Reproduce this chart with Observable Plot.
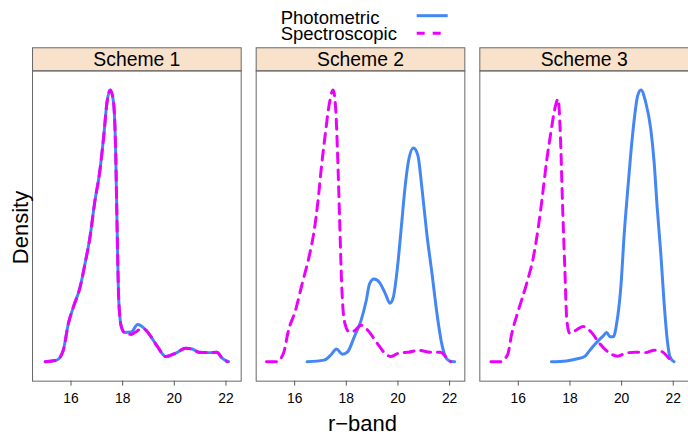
<!DOCTYPE html>
<html><head><meta charset="utf-8">
<script src="https://cdn.jsdelivr.net/npm/d3@7"></script>
<script src="https://cdn.jsdelivr.net/npm/@observablehq/plot@0.6"></script>
<style>
html,body{margin:0;padding:0;background:#fff;overflow:hidden;width:688px;height:434px}
#wrap{position:relative;width:688px;height:434px;overflow:hidden;font-family:"Liberation Sans",Arial,Helvetica,sans-serif}
#chart{position:absolute;left:0;top:0}
#overlay{position:absolute;left:0;top:0;pointer-events:none}
</style></head><body>
<div id="wrap"><div id="chart"></div><svg id="overlay" width="688" height="434"></svg></div>
<script>
const schemes = ["Scheme 1", "Scheme 2", "Scheme 3"];
const seriesNames = ["Photometric", "Spectroscopic"];
const rBandTicks = [16, 18, 20, 22];

// Scheme 1
const s1PhotR = [15.0,15.45,15.7,15.9,16.09,16.35,16.54,16.73,16.92,17.11,17.27,17.39,17.52,17.65,17.73,17.79,17.85,17.95,18.07,18.33,18.58,18.84,19.1,19.35,19.67,20.06,20.44,20.69,20.95,21.34,21.65,21.85,22.1];
const s1PhotD = [0.001,0.005,0.030,0.098,0.139,0.189,0.248,0.314,0.405,0.480,0.573,0.655,0.688,0.655,0.530,0.323,0.155,0.089,0.075,0.076,0.095,0.085,0.064,0.039,0.014,0.023,0.035,0.033,0.025,0.024,0.025,0.010,0.001];
const s1SpecR = [15.0,15.45,15.7,15.9,16.09,16.35,16.54,16.73,16.92,17.11,17.27,17.39,17.52,17.65,17.73,17.79,17.85,17.95,18.07,18.33,18.5,18.7,18.84,19.1,19.35,19.67,20.06,20.44,20.69,20.95,21.34,21.65,21.85,22.05];
const s1SpecD = [0.001,0.005,0.030,0.098,0.139,0.189,0.248,0.314,0.405,0.480,0.573,0.655,0.688,0.655,0.530,0.323,0.155,0.089,0.075,0.070,0.076,0.083,0.083,0.064,0.039,0.014,0.023,0.035,0.033,0.025,0.024,0.025,0.010,0.001];

// Scheme 2
const s2PhotR = [16.48,17.14,17.4,17.62,17.85,18.05,18.31,18.57,18.77,18.9,19.07,19.29,19.51,19.69,19.82,19.98,20.14,20.27,20.4,20.6,20.77,20.93,21.12,21.32,21.51,21.69,21.84,21.97,22.2];
const s2PhotD = [0.001,0.005,0.018,0.033,0.020,0.026,0.064,0.105,0.155,0.198,0.210,0.201,0.173,0.149,0.164,0.239,0.348,0.439,0.505,0.541,0.523,0.439,0.323,0.223,0.123,0.048,0.014,0.004,0.001];
const s2SpecR = [14.91,15.31,15.57,15.76,16.03,16.29,16.55,16.75,16.9,17.03,17.18,17.33,17.49,17.59,17.66,17.74,17.82,17.92,18.12,18.31,18.57,18.84,19.16,19.49,19.73,20.08,20.4,20.8,21.25,21.65,21.84,22.04];
const s2SpecD = [0.001,0.001,0.023,0.080,0.130,0.198,0.264,0.330,0.405,0.489,0.573,0.648,0.688,0.639,0.530,0.364,0.198,0.105,0.076,0.079,0.093,0.080,0.051,0.023,0.014,0.024,0.025,0.030,0.025,0.025,0.014,0.001];

// Scheme 3
const s3PhotR = [17.28,17.86,18.25,18.57,18.76,19.02,19.27,19.42,19.55,19.68,19.81,19.98,20.1,20.23,20.36,20.49,20.62,20.75,20.94,21.13,21.26,21.38,21.52,21.64,21.77,21.87,22.03];
const s3PhotD = [0.001,0.003,0.008,0.014,0.029,0.049,0.065,0.075,0.064,0.064,0.098,0.198,0.323,0.430,0.530,0.614,0.673,0.688,0.655,0.589,0.505,0.389,0.273,0.155,0.055,0.014,0.001];
const s3SpecR = [14.94,15.3,15.58,15.75,16.0,16.32,16.58,16.77,16.94,17.09,17.26,17.41,17.54,17.63,17.71,17.8,17.88,17.99,18.22,18.5,18.82,19.14,19.53,19.85,20.17,20.55,20.94,21.26,21.58,21.77,21.96];
const s3SpecD = [0.001,0.001,0.018,0.073,0.130,0.198,0.264,0.339,0.423,0.505,0.580,0.639,0.665,0.573,0.405,0.239,0.105,0.073,0.080,0.090,0.076,0.048,0.023,0.015,0.023,0.025,0.024,0.030,0.026,0.014,0.001];

const blue = "#4386f6";
const magenta = "#ea00fb";
const font = '"Liberation Sans", Arial, Helvetica, sans-serif';

const seriesTable = [
  [schemes[0], seriesNames[0], s1PhotR, s1PhotD],
  [schemes[0], seriesNames[1], s1SpecR, s1SpecD],
  [schemes[1], seriesNames[0], s2PhotR, s2PhotD],
  [schemes[1], seriesNames[1], s2SpecR, s2SpecD],
  [schemes[2], seriesNames[0], s3PhotR, s3PhotD],
  [schemes[2], seriesNames[1], s3SpecR, s3SpecD]
];
const rows = seriesTable.flatMap(([scheme, type, rs, ds]) =>
  rs.map((r, i) => ({scheme, type, r, density: ds[i]})));

const yMax = d3.max(rows, d => d.density);
const yPad = yMax * 0.07;

const plot = Plot.plot({
  width: 694,
  height: 434,
  marginLeft: 32.3,
  marginRight: 0,
  marginTop: 71,
  marginBottom: 50,
  style: {fontFamily: font, fontSize: "14px", color: "#000", background: "transparent", overflow: "visible"},
  fx: {domain: schemes, axis: null, paddingInner: 0.067, paddingOuter: 0, round: false},
  x: {domain: [14.51, 22.59]},
  y: {domain: [-yPad, yMax + yPad], axis: null},
  marks: [
    Plot.frame({fill: "#f9e2cb", stroke: "#666", insetTop: -23.3, insetBottom: 313}),
    Plot.text(schemes, {fx: d => d, text: d => d, frameAnchor: "top", lineAnchor: "middle", dy: -11.3, fontSize: 19.5, fill: "#000"}),
    Plot.frame({stroke: "#666"}),
    Plot.axisX({ticks: rBandTicks, tickSize: 5, tickPadding: 7, label: null, stroke: "#555", fill: "#000", fontSize: 14}),
    Plot.line(rows.filter(d => d.type === seriesNames[0]), {fx: "scheme", x: "r", y: "density", stroke: blue, strokeWidth: 3, curve: "monotone-x"}),
    Plot.line(rows.filter(d => d.type === seriesNames[1]), {fx: "scheme", x: "r", y: "density", stroke: magenta, strokeWidth: 3, strokeDasharray: "10,7", curve: "monotone-x"})
  ]
});
document.getElementById("chart").appendChild(plot);

// overlay: legend and axis titles
const ov = d3.select("#overlay").style("font-family", font);
ov.append("text").attr("x", 280.7).attr("y", 23.5).attr("font-size", 18.5).text(seriesNames[0]);
ov.append("text").attr("x", 280.7).attr("y", 40).attr("font-size", 18.5).text(seriesNames[1]);
ov.append("line").attr("x1", 416.7).attr("x2", 447.7).attr("y1", 15.7).attr("y2", 15.7).attr("stroke", blue).attr("stroke-width", 3);
ov.append("line").attr("x1", 416.7).attr("x2", 447.7).attr("y1", 33.3).attr("y2", 33.3).attr("stroke", magenta).attr("stroke-width", 3).attr("stroke-dasharray", "8,8");
ov.append("text").attr("x", 362.5).attr("y", 430.5).attr("font-size", 22).attr("text-anchor", "middle").text("r\u2212band");
ov.append("text").attr("transform", "translate(28,227.5) rotate(-90)").attr("font-size", 22).attr("text-anchor", "middle").text("Density");
</script>
</body></html>
